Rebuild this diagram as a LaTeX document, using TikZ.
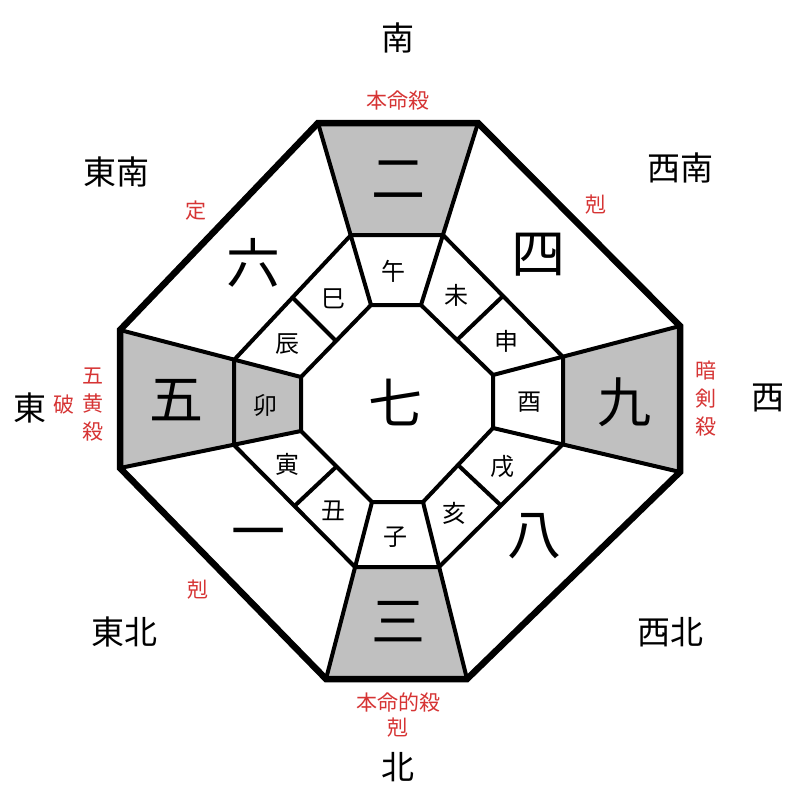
\documentclass[tikz,border=0pt]{standalone}
\usepackage{fontspec}
\newfontfamily\jp{Noto Sans CJK JP}
\usetikzlibrary{calc}
\definecolor{redtxt}{RGB}{214,52,52}
\definecolor{shade}{RGB}{192,192,192}
\tikzset{
  dirtxt/.style={font=\jp\fontsize{33}{33}\selectfont, inner sep=0pt},
  redlbl/.style={font=\jp\fontsize{21}{21}\selectfont, text=redtxt, inner sep=0pt},
  numtxt/.style={font=\jp\fontsize{54}{54}\selectfont, inner sep=0pt},
  brtxt/.style={font=\jp\fontsize{24}{24}\selectfont, inner sep=0pt},
  outerline/.style={line width=6.5pt, line join=miter},
  innerline/.style={line width=4pt, line join=miter},
  shaded/.style={fill=shade}
}
\begin{document}
\begin{tikzpicture}[x=1pt,y=-1pt]
\useasboundingbox (0,0) rectangle (800,800);
\fill[white] (0,0) rectangle (800,800);
% outer octagon
\coordinate (O1) at (318,123);
\coordinate (O2) at (478,123);
\coordinate (O3) at (680,326);
\coordinate (O4) at (680,472);
\coordinate (O5) at (467,679);
\coordinate (O6) at (326,679);
\coordinate (O7) at (120,468);
\coordinate (O8) at (120,330);
% inner octagon
\coordinate (I1) at (371,305);
\coordinate (I2) at (421,305);
\coordinate (I3) at (493,375);
\coordinate (I4) at (493,428);
\coordinate (I5) at (423,502);
\coordinate (I6) at (372,502);
\coordinate (I7) at (301,431);
\coordinate (I8) at (301,377);
% middle ring
\coordinate (M1) at (351,235);
\coordinate (M2) at (443,235);
\coordinate (M3) at (563,357);
\coordinate (M4) at (563,444);
\coordinate (M5) at (439,567);
\coordinate (M6) at (355,567);
\coordinate (M7) at (234,445);
\coordinate (M8) at (234,360);
% shaded cells
\fill[shaded] (O1) -- (O2) -- (M2) -- (M1) -- cycle;
\fill[shaded] (O3) -- (O4) -- (M4) -- (M3) -- cycle;
\fill[shaded] (O5) -- (O6) -- (M6) -- (M5) -- cycle;
\fill[shaded] (O7) -- (O8) -- (M8) -- (M7) -- cycle;
\fill[shaded] (M8) -- (M7) -- (I7) -- (I8) -- cycle;
% radial lines
\foreach \k in {1,...,8} {\draw[innerline] (O\k) -- (I\k);}
% rings
\draw[innerline] (M1) -- (M2) -- (M3) -- (M4) -- (M5) -- (M6) -- (M7) -- (M8) -- cycle;
\draw[innerline] (I1) -- (I2) -- (I3) -- (I4) -- (I5) -- (I6) -- (I7) -- (I8) -- cycle;
% splits in diagonal sectors
\draw[innerline] ($(I8)!0.5!(I1)$) -- ($(M8)!0.5!(M1)$);
\draw[innerline] ($(I2)!0.5!(I3)$) -- ($(M2)!0.5!(M3)$);
\draw[innerline] ($(I4)!0.5!(I5)$) -- ($(M4)!0.5!(M5)$);
\draw[innerline] ($(I6)!0.5!(I7)$) -- ($(M6)!0.5!(M7)$);
% outer octagon
\draw[outerline] (O1) -- (O2) -- (O3) -- (O4) -- (O5) -- (O6) -- (O7) -- (O8) -- cycle;
% numbers
\node[numtxt] (n2) at (398,180) {二};
\node[numtxt] (n4) at (538,255) {四};
\node[numtxt] (n6) at (253,263) {六};
\node[numtxt] (n5) at (176,400) {五};
\node[numtxt] (n7) at (395,402) {七};
\node[numtxt] (n9) at (624,402) {九};
\node[numtxt] (n8) at (534,536) {八};
\node[numtxt] (n1) at (258,540) {一};
\node[numtxt] (n3) at (398,622) {三};
% branches
\node[brtxt] (b1) at (393,271) {午};
\node[brtxt] (b2) at (456,295) {未};
\node[brtxt] (b3) at (506,341) {申};
\node[brtxt] (b4) at (529,402) {酉};
\node[brtxt] (b5) at (502,467) {戌};
\node[brtxt] (b6) at (454,513) {亥};
\node[brtxt] (b7) at (395,537) {子};
\node[brtxt] (b8) at (333,511) {丑};
\node[brtxt] (b9) at (287,464) {寅};
\node[brtxt] (b10) at (265,405) {卯};
\node[brtxt] (b11) at (287,344) {辰};
\node[brtxt] (b12) at (333,299) {巳};
% directions
\node[dirtxt] (dS) at (398,38) {南};
\node[dirtxt] (dN) at (398,767) {北};
\node[dirtxt] (dE) at (30,408) {東};
\node[dirtxt] (dW) at (768,398) {西};
\node[dirtxt] (dSE) at (116,172) {東南};
\node[dirtxt] (dSW) at (680,168) {西南};
\node[dirtxt] (dNE) at (124,632) {東北};
\node[dirtxt] (dNW) at (670,632) {西北};
% red labels
\node[redlbl] (r1) at (398,101) {本命殺};
\node[redlbl] (r2) at (196,211) {定};
\node[redlbl] (r3) at (596,205) {剋};
\node[redlbl] (r4) at (198,590) {剋};
\node[redlbl] (r5) at (64,405) {破};
\node[redlbl] (r6a) at (93,376) {五};
\node[redlbl] (r6b) at (93,404) {黄};
\node[redlbl] (r6c) at (93,432) {殺};
\node[redlbl] (r7a) at (706,371) {暗};
\node[redlbl] (r7b) at (706,399) {剣};
\node[redlbl] (r7c) at (706,427) {殺};
\node[redlbl] (r8) at (398,702) {本命的殺};
\node[redlbl] (r9) at (398,728) {剋};
\end{tikzpicture}
\end{document}
